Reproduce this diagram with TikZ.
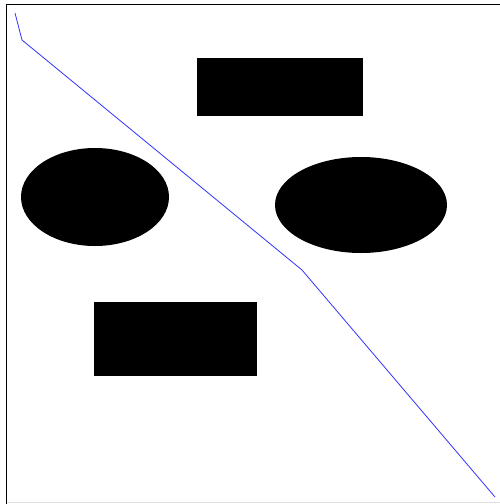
\documentclass[tikz,border=0pt]{standalone}
\begin{document}
\begin{tikzpicture}[x=1pt,y=-1pt,
  blob/.style={fill=black,draw=none},
  route/.style={draw=blue!80,line width=0.8pt}]
\useasboundingbox (0,0) rectangle (500,504);
\fill[white] (0,0) rectangle (500,504);
\draw[black,line width=1.2pt] (6.5,504) -- (6.5,4.5) -- (500,4.5);
\draw[black!12,line width=1pt] (6.5,502.5) -- (500,502.5);
\node[blob,rectangle,minimum width=166pt,minimum height=58pt,inner sep=0pt] (r1) at (280,87) {};
\node[blob,rectangle,minimum width=163pt,minimum height=74pt,inner sep=0pt] (r2) at (175.5,339) {};
\fill (95,197) ellipse [x radius=74, y radius=49];
\fill (361,205) ellipse [x radius=86, y radius=48];
\coordinate (p0) at (15,13);
\coordinate (p1) at (22,40);
\coordinate (p2) at (302,270);
\coordinate (p3) at (495,497);
\draw[route] (p0) -- (p1) -- (p2) -- (p3);
\end{tikzpicture}
\end{document}
